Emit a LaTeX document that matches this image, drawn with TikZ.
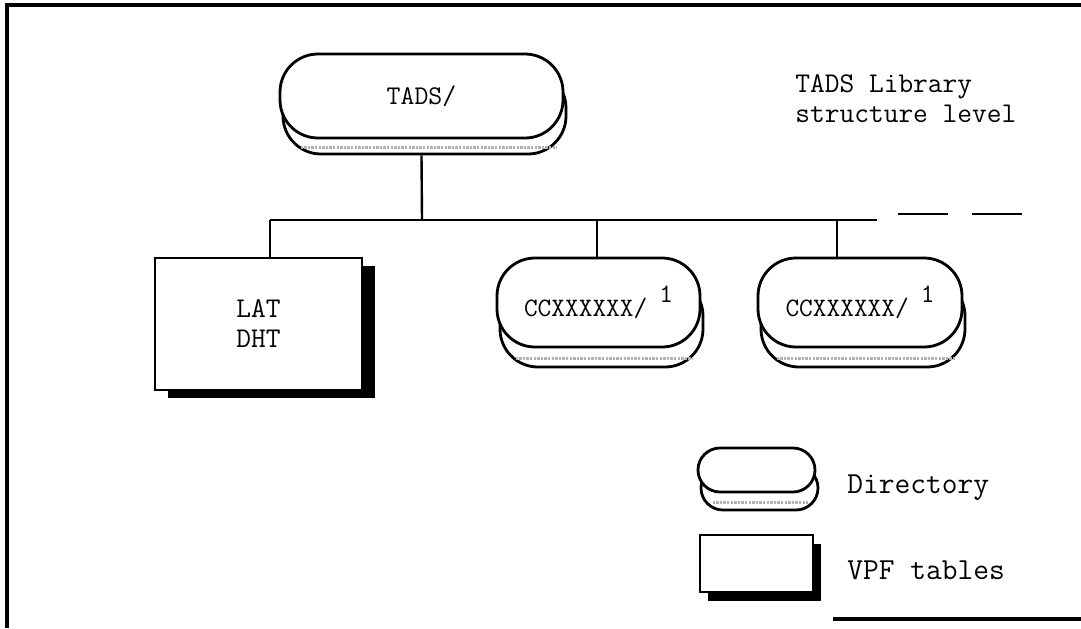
\documentclass[tikz,border=0pt]{standalone}
\usetikzlibrary{shadows,calc}
\begin{document}
\begin{tikzpicture}[x=0.5pt,y=-0.5pt,
  frame/.style={line width=1.6pt},
  conn/.style={line width=1.2pt},
  dir/.style={draw, fill=white, line width=1.4pt, rounded corners=19pt, inner sep=0pt,
    font=\ttfamily\fontsize{13.5}{15}\selectfont,
    general shadow={shadow xshift=1.5pt, shadow yshift=-#1, draw=black, fill=white, line width=1.4pt}},
  dir/.default=8pt,
  tbl/.style={draw, fill=white, line width=1.4pt, inner sep=0pt, align=center,
    font=\ttfamily\fontsize{14.3}{15}\selectfont},
  tshadow/.style 2 args={general shadow={shadow xshift=#1, shadow yshift=#2, fill=black}},
  texture/.style={gray!60, line width=1.6pt, dash pattern=on 1.2pt off 0.6pt},
  txt/.style={font=\ttfamily\fontsize{14.3}{15}\selectfont, inner sep=0pt, align=left},
  legtxt/.style={font=\ttfamily\fontsize{15.3}{16}\selectfont, inner sep=0pt, anchor=west}
]
\useasboundingbox (0,0) rectangle (1081,628);

% frame
\coordinate (ftr) at (1081,5);
\coordinate (ftl) at (7,5);
\coordinate (fbl) at (7,628);
\coordinate (fb1) at (833,619);
\coordinate (fb2) at (1081,619);
\draw[frame] (ftr) -- (ftl) -- (fbl);
\draw[frame] (fb1) -- (fb2);

% nodes
\node[dir=8pt, minimum width=141.5pt, minimum height=42pt] (tads) at (421.5,96) {TADS/};
\draw[texture] ($(tads.south west)+(22,8)$) -- ($(tads.south east)+(-8,8)$);

\node[tbl, tshadow={6.5pt}{-4pt}, minimum width=103.5pt, minimum height=66pt] (lat) at (258.5,324) {LAT\\DHT};

\node[dir=10pt, minimum width=101.5pt, minimum height=44.5pt] (cc1) at (598.5,302.5)
  {\fontsize{13.3}{15}\selectfont CCXXXXXX/\hspace{6pt}\raisebox{7pt}{1}};
\draw[texture] ($(cc1.south west)+(20,10)$) -- ($(cc1.south east)+(-8,10)$);

\node[dir=10pt, minimum width=102pt, minimum height=44.5pt] (cc2) at (860,302.5)
  {\fontsize{13.3}{15}\selectfont CCXXXXXX/\hspace{6pt}\raisebox{7pt}{1}};
\draw[texture] ($(cc2.south west)+(20,10)$) -- ($(cc2.south east)+(-8,10)$);

\node[dir=9pt, rounded corners=11pt, minimum width=58.5pt, minimum height=22pt] (ldir) at (756.5,470) {};
\draw[texture] ($(ldir.south west)+(16,9)$) -- ($(ldir.south east)+(-8,9)$);

\node[tbl, tshadow={3.75pt}{-4.5pt}, minimum width=56.5pt, minimum height=28.5pt] (ltbl) at (756.5,563.5) {};

% texts
\node[txt, anchor=west] (title) at (795,99) {TADS Library\\structure level};
\node[legtxt] (tdir) at (847,488) {Directory};
\node[legtxt] (ttbl) at (847,570) {VPF tables};

% connectors
\coordinate (top) at ($(tads.south)+(0,16)$);
\coordinate (j) at (422,220);
\coordinate (h1) at (270,220);
\coordinate (h2) at (597,220);
\coordinate (h3) at (837,220);
\coordinate (hend) at (877,220);
\draw[conn] (top) -- (j);
\draw[conn] (h1) -- (hend);
\draw[conn] (h1) -- (h1 |- lat.north);
\draw[conn] (h2) -- (h2 |- cc1.north);
\draw[conn] (h3) -- (h3 |- cc2.north);

\coordinate (d1) at (898,214);
\coordinate (d2) at (1023,214);
\draw[conn, dash pattern=on 25pt off 12pt] (d1) -- (d2);
\end{tikzpicture}
\end{document}
